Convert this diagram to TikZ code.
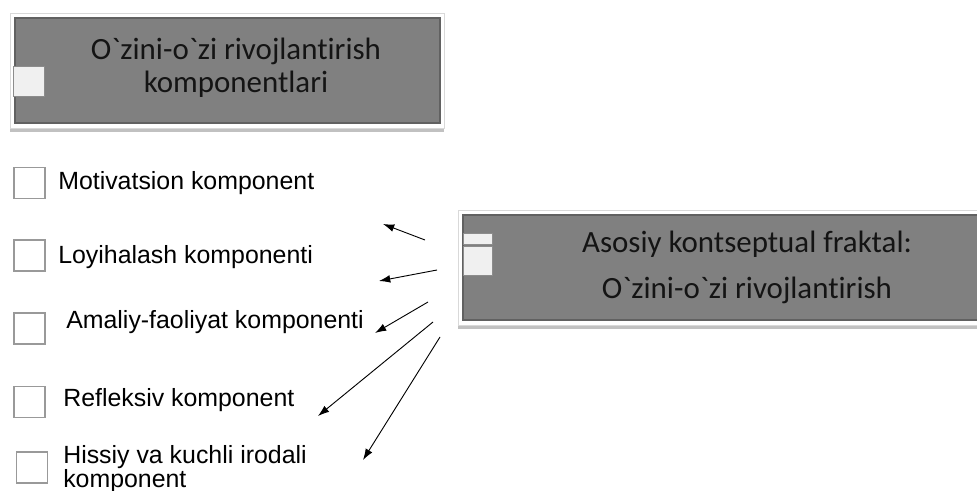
\documentclass[tikz,border=0pt]{standalone}
\usepackage{fontspec}
\setmainfont{Liberation Sans}
\newfontfamily\boxfont[Ligatures={NoCommon,NoContextual},RawFeature={-liga;-clig}]{Carlito}
\usetikzlibrary{arrows.meta,shadows}

\newcommand\pix{0.025cm}

\tikzset{
  frame/.style={draw=black!15, fill=white, line width=0.6pt,
    drop shadow={shadow xshift=0pt, shadow yshift=-3pt, opacity=0.35, fill=black!70}},
  panel/.style={draw=black!62, fill=black!50, line width=0.8pt},
  tab/.style={draw=black!45, fill=black!6, line width=0.6pt, inner sep=0pt},
  checkbox/.style={draw=black!40, line width=1.2pt, inner sep=0pt, minimum size=31*\pix},
  item/.style={anchor=base west, inner sep=0pt, align=left,
    font=\fontsize{17.7}{17}\selectfont},
  title/.style={inner sep=0pt, align=center, text=black!92},
  pointer/.style={-{Latex[length=8pt,width=5.5pt]}, line width=0.65pt},
}

\begin{document}
\begin{tikzpicture}[x=\pix, y=-\pix]
  \clip (0,0) rectangle (977,491);

  % Upper box
  \node[frame, minimum width=434*\pix, minimum height=115*\pix] (topframe) at (227,70.5) {};
  \node[panel, minimum width=425*\pix, minimum height=105*\pix] (toppanel) at (227.5,70.5) {};
  \node[tab, minimum width=31*\pix, minimum height=30*\pix] (toptab) at (28.5,81) {};
  \node[title, font=\boxfont\fontsize{22}{23.5}\selectfont] (toptitle) at (236,68)
    {O`zini-o`zi rivojlantirish\\komponentlari};

  % Right box (runs off the edge)
  \node[frame, minimum width=560*\pix, minimum height=115*\pix] (coreframe) at (738,267.5) {};
  \node[panel, minimum width=552*\pix, minimum height=105*\pix] (corepanel) at (739,267.5) {};
  \node[tab, minimum width=29*\pix, minimum height=11*\pix] (coretaba) at (477.5,238.5) {};
  \node[tab, minimum width=29*\pix, minimum height=29*\pix] (coretabb) at (477.5,260.5) {};
  \node[title, font=\boxfont\fontsize{22}{33}\selectfont] (coretitle) at (747,267.5)
    {Asosiy kontseptual fraktal:\\O`zini-o`zi rivojlantirish};

  % Components
  \node[checkbox] (box1) at (29.5,183) {};
  \node[checkbox] (box2) at (29.5,255.5) {};
  \node[checkbox] (box3) at (29.5,328.5) {};
  \node[checkbox] (box4) at (29.5,402) {};
  \node[checkbox] (box5) at (32,467.5) {};

  \node[item] (comp1) at (58,190) {Motivatsion komponent};
  \node[item] (comp2) at (58,263) {Loyihalash komponenti};
  \node[item] (comp3) at (66,328) {Amaliy-faoliyat komponenti};
  \node[item] (comp4) at (63,406) {Refleksiv komponent};
  \node[item] (comp5) at (63,487) {Hissiy va kuchli irodali\\komponent};

  % Arrows
  \coordinate (from1) at (425,240);  \coordinate (to1) at (383,224);
  \coordinate (from2) at (437,270);  \coordinate (to2) at (379,281);
  \coordinate (from3) at (428,302);  \coordinate (to3) at (375,333);
  \coordinate (from4) at (433,322);  \coordinate (to4) at (318,416);
  \coordinate (from5) at (440,337);  \coordinate (to5) at (363,460);
  \foreach \i in {1,...,5}
    \draw[pointer] (from\i) -- (to\i);
\end{tikzpicture}
\end{document}
